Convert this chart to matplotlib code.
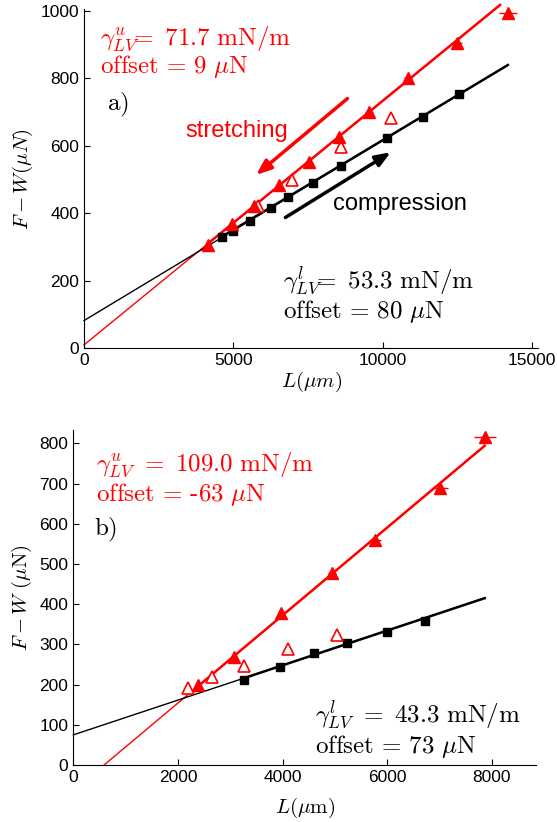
import numpy as np
import matplotlib.pyplot as plt

plt.rcParams['mathtext.fontset'] = 'cm'
plt.rcParams['font.family'] = ['Liberation Sans', 'DejaVu Sans']

# ---- panel a) values
a_L_stretch = [4147, 4941, 5687, 6540, 7524, 8531, 9538, 10841, 12464, 14183]
a_F_stretch = [306, 368, 421, 484, 551, 627, 701, 800, 903, 994]
a_err_stretch = [40, 50, 60, 70, 80, 100, 120, 150, 190, 300]
a_L_comp = [4621, 4976, 5545, 6256, 6836, 7666, 8590, 10154, 11351, 12536]
a_F_comp = [329, 347, 377, 415, 447, 491, 540, 622, 686, 753]
a_L_open = [5806, 6955, 8590, 10284]
a_F_open = [420, 499, 595, 681]
# fit lines: full (thin) and over the fitted range (thick)
a_fit_up_L = [0, 13922]
a_fit_up_F = [10, 1017]
a_seg_up_L = [4147, 13922]
a_seg_up_F = [310, 1017]
a_fit_lo_L = [0, 14183]
a_fit_lo_F = [82, 839]
a_seg_lo_L = [4621, 14183]
a_seg_lo_F = [331, 839]

# ---- panel b)
b_L_stretch = [2384, 3076, 3973, 4944, 5772, 7015, 7864]
b_F_stretch = [199, 269, 377, 478, 560, 688, 817]
b_err_stretch = [30, 40, 60, 80, 110, 150, 210]
b_L_comp = [3260, 3946, 4604, 5236, 5997, 6723]
b_F_comp = [211, 243, 278, 303, 332, 358]
b_L_open = [2194, 2649, 3260, 4109, 5032]
b_F_open = [191, 218, 247, 288, 323]
b_fit_up_L = [587, 7864]
b_fit_up_F = [0, 794]
b_seg_up_L = [2384, 7864]
b_seg_up_F = [196, 794]
b_fit_lo_L = [0, 7864]
b_fit_lo_F = [75, 415]
b_seg_lo_L = [3260, 7864]
b_seg_lo_F = [216, 415]

red = '#ff0000'
fig = plt.figure(figsize=(5.57, 8.22), dpi=100)
ax1 = fig.add_axes([0.1508, 0.5763, 0.8156, 0.4128])
ax2 = fig.add_axes([0.1316, 0.0693, 0.8312, 0.4075])


def draw(ax, fit_up, seg_up, fit_lo, seg_lo, Ls, Fs, errs, Lc, Fc, Lo, Fo):
    ax.plot(*fit_up, color=red, lw=1.0, clip_on=False)
    ax.plot(*fit_lo, color='k', lw=1.0, clip_on=False)
    ax.plot(*seg_up, color=red, lw=1.8, clip_on=False)
    ax.plot(*seg_lo, color='k', lw=1.8, clip_on=False)
    ax.errorbar(Ls, Fs, xerr=errs, fmt='^', color=red, ms=8.5,
                elinewidth=1.0, capsize=0, clip_on=False)
    ax.plot(Lc, Fc, 's', color='k', ms=6, clip_on=False)
    ax.plot(Lo, Fo, '^', mfc='white', mec=red, mew=1.2, ms=8, clip_on=False)
    for s in ['top', 'right']:
        ax.spines[s].set_visible(False)
    ax.tick_params(direction='in', length=4, labelsize=12.5)


draw(ax1, (a_fit_up_L, a_fit_up_F), (a_seg_up_L, a_seg_up_F),
     (a_fit_lo_L, a_fit_lo_F), (a_seg_lo_L, a_seg_lo_F),
     a_L_stretch, a_F_stretch, a_err_stretch, a_L_comp, a_F_comp, a_L_open, a_F_open)
ax1.set_xlim(0, 15200)
ax1.set_ylim(0, 1005)
ax1.set_xticks([0, 5000, 10000, 15000])
ax1.set_yticks([0, 200, 400, 600, 800, 1000])
ax1.set_xlabel(r'$L(\mu m)$', fontsize=15, labelpad=1)
ax1.set_ylabel(r'$F-W(\mu N)$', fontsize=15, labelpad=4)

ax1.text(533, 918, r'$\gamma^u_{LV}\!\!=\ 71.7\ \mathrm{mN/m}$', color=red, fontsize=18, va='center')
ax1.text(533, 834, r'$\mathrm{offset}\,=\,9\ \mu\mathrm{N}$', color=red, fontsize=18, va='center')
ax1.text(770, 720, r'$\mathrm{a)}$', fontsize=18, va='center')
ax1.text(6659, 197, r'$\gamma^l_{LV}\!\!=\ 53.3\ \mathrm{mN/m}$', color='k', fontsize=18, va='center')
ax1.text(6659, 109, r'$\mathrm{offset}\,=\,80\ \mu\mathrm{N}$', color='k', fontsize=18, va='center')
ax1.text(5118, 645, 'stretching', color=red, fontsize=17, ha='center', va='center')
ax1.text(10557, 427, 'compression', color='k', fontsize=17, ha='center', va='center')
ax1.annotate('', xy=(5687, 508), xytext=(8886, 745),
             arrowprops=dict(arrowstyle='-|>,head_length=0.9,head_width=0.35', color=red, lw=2.5))
ax1.annotate('', xy=(10344, 585), xytext=(6659, 383),
             arrowprops=dict(arrowstyle='-|>,head_length=0.9,head_width=0.35', color='k', lw=2.5))

draw(ax2, (b_fit_up_L, b_fit_up_F), (b_seg_up_L, b_seg_up_F),
     (b_fit_lo_L, b_fit_lo_F), (b_seg_lo_L, b_seg_lo_F),
     b_L_stretch, b_F_stretch, b_err_stretch, b_L_comp, b_F_comp, b_L_open, b_F_open)
ax2.set_xlim(0, 8850)
ax2.set_ylim(0, 833)
ax2.set_xticks([0, 2000, 4000, 6000, 8000])
ax2.set_yticks(np.arange(0, 801, 100))
ax2.set_xlabel(r'$L(\mu\mathrm{m})$', fontsize=15, labelpad=8)
ax2.set_ylabel(r'$F-W\ (\mu\mathrm{N})$', fontsize=15, labelpad=4)

ax2.text(428, 746, r'$\gamma^u_{LV}\ =\ 109.0\ \mathrm{mN/m}$', color=red, fontsize=18, va='center')
ax2.text(428, 674, r'$\mathrm{offset}\,=\,\text{-}63\ \mu\mathrm{N}$', color=red, fontsize=18, va='center')
ax2.text(394, 585, r'$\mathrm{b)}$', fontsize=18, va='center')
ax2.text(4625, 124, r'$\gamma^l_{LV}\ =\ 43.3\ \mathrm{mN/m}$', color='k', fontsize=18, va='center')
ax2.text(4625, 47, r'$\mathrm{offset}\,=\,73\ \mu\mathrm{N}$', color='k', fontsize=18, va='center')

fig.savefig('out.png', dpi=100)
